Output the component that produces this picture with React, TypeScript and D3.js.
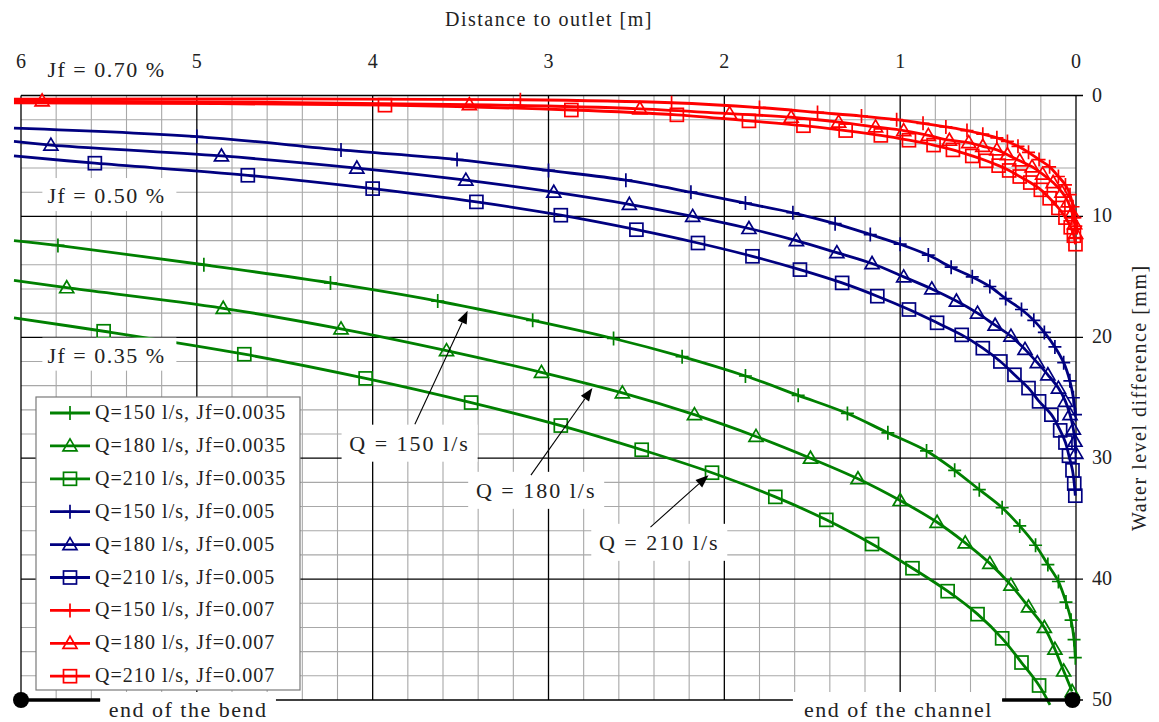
import React from 'react';
import * as d3 from 'd3';

const W = 1159;
const H = 722;
const FONT = 'Liberation Serif, DejaVu Serif, serif';

// distance to outlet [m] where every line starts (left of the 6 m grid line)
const START_D = 6.04;

// line start values [mm] at START_D, in legend order
const lineStarts = [12.0, 15.3, 18.4, 2.7, 3.8, 5.0, 0.3, 0.45, 0.6];

// marker points: [distance to outlet m, water level difference mm]
const green150 = [[5.79, 12.4], [4.96, 14.0], [4.24, 15.5], [3.63, 17.0], [3.09, 18.6], [2.63, 20.1], [2.24, 21.6], [1.88, 23.2], [1.58, 24.8], [1.30, 26.3], [1.07, 27.9], [0.85, 29.4], [0.69, 31.0], [0.55, 32.6], [0.42, 34.1], [0.32, 35.6], [0.23, 37.2], [0.16, 38.8], [0.10, 40.2], [0.057, 41.9], [0.028, 43.4], [0.011, 45.0], [0.004, 46.5]];
const green180 = [[5.74, 15.9], [4.85, 17.6], [4.18, 19.3], [3.58, 21.1], [3.04, 22.9], [2.58, 24.6], [2.17, 26.4], [1.82, 28.2], [1.51, 30.0], [1.24, 31.7], [1.00, 33.5], [0.79, 35.3], [0.63, 37.0], [0.49, 38.7], [0.37, 40.5], [0.27, 42.3], [0.18, 44.0], [0.12, 45.8], [0.07, 47.6], [0.022, 49.3]];
const green210 = [[5.53, 19.5], [4.73, 21.4], [4.04, 23.4], [3.44, 25.4], [2.93, 27.3], [2.47, 29.3], [2.07, 31.2], [1.71, 33.2], [1.42, 35.1], [1.16, 37.1], [0.93, 39.1], [0.73, 41.0], [0.56, 42.9], [0.42, 44.9], [0.31, 46.9], [0.21, 48.8]];
const blue150 = [[5.0, 3.4], [4.18, 4.5], [3.52, 5.3], [3.0, 6.2], [2.56, 7.0], [2.19, 8.0], [1.88, 8.9], [1.61, 9.7], [1.37, 10.6], [1.17, 11.5], [1.0, 12.3], [0.84, 13.2], [0.71, 14.2], [0.59, 15.0], [0.49, 15.8], [0.40, 16.8], [0.31, 17.7], [0.24, 18.6], [0.18, 19.6], [0.12, 20.8], [0.07, 22.1], [0.035, 23.6], [0.015, 25.0], [0.003, 26.4]];
const blue180 = [[5.83, 4.1], [4.86, 5.0], [4.09, 6.0], [3.47, 7.0], [2.97, 8.0], [2.54, 9.0], [2.18, 10.0], [1.86, 11.0], [1.59, 12.0], [1.36, 13.0], [1.16, 13.9], [0.98, 15.0], [0.82, 16.0], [0.68, 17.0], [0.56, 18.0], [0.46, 19.0], [0.37, 19.9], [0.29, 21.0], [0.22, 22.1], [0.16, 23.1], [0.10, 24.2], [0.06, 25.3], [0.034, 26.4], [0.015, 27.6], [0.006, 28.6], [0.001, 29.6]];
const blue210 = [[5.58, 5.6], [4.71, 6.6], [4.0, 7.7], [3.41, 8.8], [2.93, 9.9], [2.50, 11.1], [2.15, 12.2], [1.84, 13.3], [1.57, 14.4], [1.33, 15.5], [1.13, 16.6], [0.95, 17.7], [0.79, 18.8], [0.65, 19.8], [0.53, 20.9], [0.43, 22.0], [0.35, 23.1], [0.27, 24.2], [0.21, 25.3], [0.14, 26.4], [0.09, 27.7], [0.06, 28.7], [0.04, 29.8], [0.02, 31.0], [0.01, 32.1], [0.004, 33.1]];
const red150 = [[3.16, 0.35], [2.30, 0.6], [1.80, 1.0], [1.47, 1.4], [1.22, 1.7], [1.02, 2.0], [0.87, 2.3], [0.74, 2.6], [0.62, 2.9], [0.53, 3.2], [0.45, 3.5], [0.39, 3.8], [0.33, 4.2], [0.27, 4.7], [0.21, 5.3], [0.15, 5.9], [0.10, 6.7], [0.06, 7.4], [0.034, 8.2], [0.017, 9.2], [0.006, 10.1], [0.001, 10.8]];
const red180 = [[5.88, 0.45], [3.45, 0.75], [2.48, 1.1], [1.97, 1.5], [1.62, 1.8], [1.35, 2.2], [1.14, 2.6], [0.98, 2.9], [0.84, 3.3], [0.72, 3.7], [0.61, 3.9], [0.53, 4.2], [0.45, 4.5], [0.39, 4.9], [0.32, 5.4], [0.25, 5.9], [0.19, 6.5], [0.13, 7.2], [0.08, 8.0], [0.045, 8.8], [0.022, 9.7], [0.008, 10.6], [0.002, 11.4]];
const red210 = [[3.93, 0.8], [2.87, 1.2], [2.27, 1.6], [1.86, 2.1], [1.55, 2.5], [1.31, 2.9], [1.11, 3.3], [0.95, 3.7], [0.81, 4.1], [0.70, 4.5], [0.59, 5.0], [0.51, 5.4], [0.44, 5.8], [0.38, 6.2], [0.32, 6.7], [0.26, 7.2], [0.20, 7.8], [0.15, 8.5], [0.10, 9.3], [0.06, 10.1], [0.03, 10.9], [0.012, 11.6], [0.003, 12.3]];

// green 210 runs a little past the 50 mm line
const green210Tail = [0.148, 50.4];

const seriesNames = [
  'Q=150 l/s, Jf=0.0035', 'Q=180 l/s, Jf=0.0035', 'Q=210 l/s, Jf=0.0035',
  'Q=150 l/s, Jf=0.005', 'Q=180 l/s, Jf=0.005', 'Q=210 l/s, Jf=0.005',
  'Q=150 l/s, Jf=0.007', 'Q=180 l/s, Jf=0.007', 'Q=210 l/s, Jf=0.007',
];
const seriesData = [green150, green180, green210, blue150, blue180, blue210, red150, red180, red210];
const seriesColors = ['#008000', '#008000', '#008000', '#000080', '#000080', '#000080', '#ff0000', '#ff0000', '#ff0000'];
const seriesMarkers = ['plus', 'tri', 'square', 'plus', 'tri', 'square', 'plus', 'tri', 'square'];

const xTicks = [6, 5, 4, 3, 2, 1, 0];
const yTicks = [0, 10, 20, 30, 40, 50];

// slope labels: [text, distance m, mm]
const jfLabels = [['Jf = 0.70 %', 5.85, -2.0], ['Jf = 0.50 %', 5.85, 8.4], ['Jf = 0.35 %', 5.85, 21.6]];

// Q call-outs: label, label pos [m, mm], arrow tail [m, mm], arrow tip [m, mm]
const qLabels = ['Q = 150 l/s', 'Q = 180 l/s', 'Q = 210 l/s'];
const qLabelPos = [[3.79, 28.8], [3.07, 32.7], [2.37, 37.0]];
const qArrowTail = [[3.76, 27.2], [3.10, 31.4], [2.42, 35.7]];
const qArrowTip = [[3.46, 17.8], [2.75, 24.2], [2.09, 31.4]];

const x = d3.scaleLinear().domain([6, 0]).range([21, 1076]);
const y = d3.scaleLinear().domain([0, 50]).range([95.5, 700]);

const line = d3.line<number[]>()
  .x(d => x(d[0]))
  .y(d => y(d[1]))
  .curve(d3.curveCatmullRom.alpha(0.5));

function Marker({ type, cx, cy, color }: { type: string; cx: number; cy: number; color: string }) {
  if (type === 'plus') {
    return <path d={`M${cx - 6.5},${cy}H${cx + 6.5}M${cx},${cy - 7}V${cy + 7}`} stroke={color} strokeWidth={1.7} fill="none" />;
  }
  if (type === 'tri') {
    return <path d={`M${cx},${cy - 7}L${cx + 7},${cy + 5}L${cx - 7},${cy + 5}Z`} stroke={color} strokeWidth={1.7} fill="none" />;
  }
  return <rect x={cx - 6.5} y={cy - 6.5} width={13} height={13} stroke={color} strokeWidth={1.7} fill="none" />;
}

function Arrow({ from, to }: { from: number[]; to: number[] }) {
  const x1 = x(from[0]), y1 = y(from[1]), x2 = x(to[0]), y2 = y(to[1]);
  const a = Math.atan2(y2 - y1, x2 - x1);
  const len = 13, half = 5;
  const bx = x2 - len * Math.cos(a), by = y2 - len * Math.sin(a);
  const p1 = [bx + half * Math.sin(a), by - half * Math.cos(a)];
  const p2 = [bx - half * Math.sin(a), by + half * Math.cos(a)];
  return (
    <g>
      <line x1={x1} y1={y1} x2={bx} y2={by} stroke="#000" strokeWidth={1.1} />
      <path d={`M${x2},${y2}L${p1[0]},${p1[1]}L${p2[0]},${p2[1]}Z`} fill="#000" />
    </g>
  );
}

export default function App() {
  const minorX = d3.range(0, 31).map(i => i * 0.2).filter(v => Math.abs(v - Math.round(v)) > 1e-6);
  const minorY = d3.range(0, 26).map(i => i * 2).filter(v => v % 10 !== 0);
  const [x0, x1] = x.range();
  const [y0, y1] = y.range();

  const legendX = 36, legendY = 397, legendW = 264, legendH = 293, legendStep = 32.9;
  const txt = { fontFamily: FONT, fill: '#222' };
  const wide = { fontFamily: FONT, fill: '#222', letterSpacing: '1.5px' };
  const mid = { fontFamily: FONT, fill: '#222', letterSpacing: '1.05px' };

  return (
    <svg width={W} height={H} style={{ display: 'block', position: 'absolute', left: 0, top: 0, background: '#fff' }}>
      <rect width={W} height={H} fill="#fff" />

      {/* grid */}
      {minorX.map(v => <line key={'mx' + v} x1={x(v)} x2={x(v)} y1={y0} y2={y1} stroke="#a8a8a8" strokeWidth={1.1} />)}
      {minorY.map(v => <line key={'my' + v} x1={x0} x2={x1} y1={y(v)} y2={y(v)} stroke="#a8a8a8" strokeWidth={1.1} />)}
      {xTicks.map(v => <line key={'Mx' + v} x1={x(v)} x2={x(v)} y1={y0} y2={y1} stroke="#000" strokeWidth={1.3} />)}
      {yTicks.map(v => <line key={'My' + v} x1={x0} x2={x1 + 7} y1={y(v)} y2={y(v)} stroke="#000" strokeWidth={1.3} />)}

      {/* axis labels */}
      {xTicks.map(v => (
        <text key={'tx' + v} x={x(v)} y={68} textAnchor="middle" fontSize={20} style={txt}>{v}</text>
      ))}
      {yTicks.map(v => (
        <text key={'ty' + v} x={x1 + 16} y={y(v) + 6} textAnchor="start" fontSize={20} style={txt}>{v}</text>
      ))}
      <text x={549} y={26} textAnchor="middle" fontSize={20} style={wide}>Distance to outlet [m]</text>
      <text transform={`translate(1146,${(y0 + y1) / 2}) rotate(-90)`} textAnchor="middle" fontSize={20} style={wide}>Water level difference [mm]</text>

      {/* series */}
      {seriesData.map((pts, i) => {
        const full = [[START_D, lineStarts[i]], ...pts];
        if (i === 2) full.push(green210Tail);
        return <path key={'l' + i} d={line(full) || ''} fill="none" stroke={seriesColors[i]} strokeWidth={2.8} />;
      })}
      {seriesData.map((pts, i) => (
        <g key={'m' + i}>
          {pts.map((p, j) => <Marker key={j} type={seriesMarkers[i]} cx={x(p[0])} cy={y(p[1])} color={seriesColors[i]} />)}
        </g>
      ))}

      {/* slope labels */}
      {jfLabels.map(([t, d, v], i) => (
        <g key={'jf' + i}>
          <rect x={x(d as number) - 5} y={y(v as number) - 19} width={134} height={33} fill="#fff" />
          <text x={x(d as number)} y={y(v as number) + 6} fontSize={22} style={wide}>{t}</text>
        </g>
      ))}

      {/* Q call-outs */}
      {qLabels.map((t, i) => (
        <g key={'q' + i}>
          <rect x={x(qLabelPos[i][0]) - 68} y={y(qLabelPos[i][1]) - 19} width={136} height={37} fill="#fff" />
          <Arrow from={qArrowTail[i]} to={qArrowTip[i]} />
          <text x={x(qLabelPos[i][0])} y={y(qLabelPos[i][1]) + 7} textAnchor="middle" fontSize={22} style={{ ...wide, letterSpacing: '2px' }}>{t}</text>
        </g>
      ))}

      {/* legend */}
      <rect x={legendX} y={legendY} width={legendW} height={legendH} fill="#fff" stroke="#7a7a7a" strokeWidth={1.2} />
      {seriesNames.map((n, i) => {
        const ly = legendY + 16 + i * legendStep;
        return (
          <g key={'lg' + i}>
            <line x1={legendX + 14} x2={legendX + 54} y1={ly} y2={ly} stroke={seriesColors[i]} strokeWidth={2.8} />
            <Marker type={seriesMarkers[i]} cx={legendX + 34} cy={ly} color={seriesColors[i]} />
            <text x={legendX + 59} y={ly + 6} fontSize={20} style={mid}>{n}</text>
          </g>
        );
      })}

      {/* channel markers along the 50 mm line */}
      <rect x={x(5.55)} y={692} width={x(4.55) - x(5.55)} height={30} fill="#fff" />
      <rect x={x(1.61)} y={692} width={x(0.42) - x(1.61)} height={30} fill="#fff" />
      <line x1={x(6)} x2={x(5.55)} y1={y(50)} y2={y(50)} stroke="#000" strokeWidth={3.5} />
      <line x1={x(0.42)} x2={x(0.02)} y1={y(50)} y2={y(50)} stroke="#000" strokeWidth={3.5} />
      <circle cx={x(6)} cy={y(50)} r={8} fill="#000" />
      <circle cx={x(0.02)} cy={y(50)} r={8} fill="#000" />
      <text x={x(5.05)} y={717} textAnchor="middle" fontSize={22} style={wide}>end of the bend</text>
      <text x={x(1.01)} y={717} textAnchor="middle" fontSize={22} style={wide}>end of the channel</text>
    </svg>
  );
}
